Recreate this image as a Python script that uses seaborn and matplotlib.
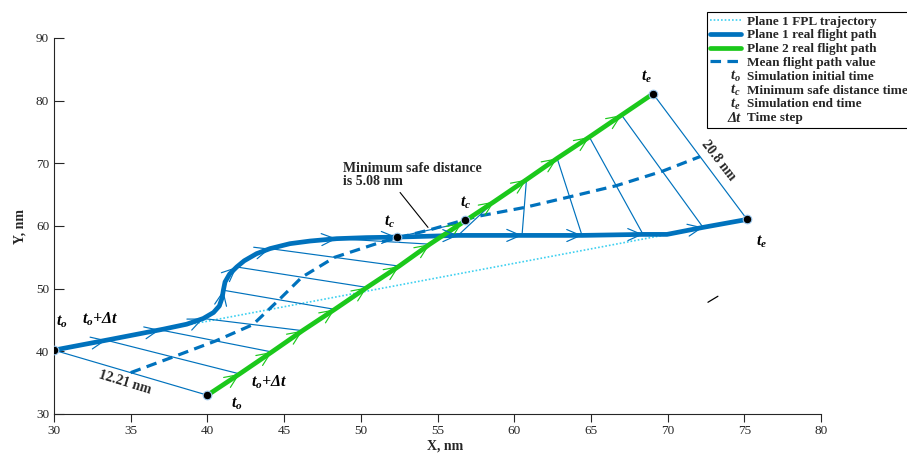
import numpy as np
import matplotlib
matplotlib.use("Agg")
import matplotlib.pyplot as plt
import seaborn as sns
import matplotlib.text as mtext
from matplotlib.legend_handler import HandlerBase
from matplotlib.lines import Line2D

# ---------------- data ----------------
fpl_x = [30.0, 75.18]
fpl_y = [40.19, 61.05]

p1_path_x = [30.0, 33.65, 37.13, 38.65, 39.73, 40.40, 40.78, 40.96, 41.04, 41.15, 41.45,
             41.91, 42.40, 43.21, 44.08, 45.38, 46.69, 48.43, 50.4, 52.34, 56.34, 60.51,
             64.42, 68.40, 69.96, 72.31, 75.18]
p1_path_y = [40.19, 41.89, 43.54, 44.33, 45.24, 46.20, 47.25, 48.55, 49.75, 51.07, 52.35,
             53.46, 54.45, 55.59, 56.39, 57.18, 57.60, 57.98, 58.15, 58.23, 58.50, 58.50,
             58.50, 58.66, 58.66, 59.78, 61.05]

p1_step_x = [30.0, 33.4, 36.9, 39.73, 41.04, 41.91, 44.08, 48.43, 52.34, 56.34, 60.51,
             64.42, 68.40, 72.31, 75.18]
p1_step_y = [40.19, 41.78, 43.43, 45.24, 49.75, 53.46, 56.39, 57.98, 58.23, 58.50, 58.50,
             58.50, 58.66, 59.78, 61.05]

p2_step_x = [40.0, 42.1, 44.2, 46.2, 48.3, 50.4, 52.5, 54.5, 56.6, 58.7, 60.8, 62.8,
             64.9, 67.0, 69.05]
p2_step_y = [33.0, 36.4, 39.9, 43.3, 46.7, 50.2, 53.6, 57.1, 60.5, 63.9, 67.4, 70.8,
             74.2, 77.7, 81.1]

mean_x = [35.0, 37.75, 40.55, 42.97, 44.67, 46.16, 48.29, 51.47, 54.47, 57.52, 60.66,
          63.61, 66.65, 69.66, 72.12]
mean_y = [36.6, 39.09, 41.67, 44.27, 48.23, 51.83, 55.0, 57.54, 59.37, 61.5, 62.95,
          64.65, 66.43, 68.74, 71.08]

tc_x = [52.34, 56.8]
tc_y = [58.23, 60.9]

stray_x = [72.63, 73.28]
stray_y = [47.83, 48.79]

x_ticks = [30, 35, 40, 45, 50, 55, 60, 65, 70, 75, 80]
y_ticks = [30, 40, 50, 60, 70, 80, 90]

legend_line_labels = ["Plane 1 FPL trajectory", "Plane 1 real flight path",
                      "Plane 2 real flight path", "Mean flight path value"]
legend_text_symbols = [r"$t_o$", r"$t_c$", r"$t_e$", "Δt"]
legend_text_labels = ["Simulation initial time", "Minimum safe distance time",
                      "Simulation end time", "Time step"]

# ---------------- style ----------------
sns.set_theme(style="ticks")
plt.rcParams["font.family"] = ["Liberation Serif", "DejaVu Serif"]
plt.rcParams["mathtext.fontset"] = "custom"
plt.rcParams["mathtext.it"] = "Liberation Serif:italic:bold"
plt.rcParams["mathtext.rm"] = "Liberation Serif:bold"
plt.rcParams["mathtext.bf"] = "Liberation Serif:bold"

BLUE = "#0072BD"
GREEN = "#1BC81B"
CYAN = "#3ED0F0"
AXC = "#262626"

fig = plt.figure(figsize=(9.07, 4.55), dpi=100)
ax = fig.add_axes([54 / 907, 1 - 414 / 455, (821 - 54) / 907, (414 - 38) / 455])
ax.set_xlim(30, 80)
ax.set_ylim(30, 90)

# FPL trajectory
sns.lineplot(x=fpl_x, y=fpl_y, sort=False, estimator=None, ax=ax, color=CYAN,
             linewidth=1.2, linestyle=(0, (1, 1.2)), zorder=2)

# time-step connection lines
ax.plot([p1_step_x, p2_step_x], [p1_step_y, p2_step_y], color=BLUE, lw=0.85, zorder=3)

# mean path
sns.lineplot(x=mean_x, y=mean_y, sort=False, estimator=None, ax=ax, color=BLUE,
             linewidth=2.3, linestyle=(0, (3.3, 2.0)), zorder=4)

# plane 1 real path
sns.lineplot(x=p1_path_x, y=p1_path_y, sort=False, estimator=None, ax=ax, color=BLUE,
             linewidth=3.4, zorder=5, solid_joinstyle="round", solid_capstyle="round")
# plane 2 real path
sns.lineplot(x=p2_step_x, y=p2_step_y, sort=False, estimator=None, ax=ax, color=GREEN,
             linewidth=3.4, zorder=6, solid_capstyle="butt")

# chevrons along the paths
disp_path = ax.transData.transform(np.column_stack([p1_path_x, p1_path_y]))
disp_p1 = ax.transData.transform(np.column_stack([p1_step_x, p1_step_y]))
disp_p2 = ax.transData.transform(np.column_stack([p2_step_x, p2_step_y]))


def chevron(xy, direction, color):
    d = np.asarray(direction, float)
    d = d / np.hypot(*d)
    ax.annotate("", xy=xy, xytext=(-d[0] * 6, -d[1] * 6), textcoords="offset points",
                arrowprops=dict(arrowstyle="->,head_length=0.55,head_width=0.24",
                                color=color, lw=0.85, shrinkA=0, shrinkB=0,
                                mutation_scale=18), zorder=7)


for i in range(1, len(p1_step_x) - 1):
    j = int(np.argmin(np.hypot(*(disp_path - disp_p1[i]).T)))
    j0, j1 = max(j - 1, 0), min(j + 1, len(disp_path) - 1)
    chevron((p1_step_x[i], p1_step_y[i]), disp_path[j1] - disp_path[j0], BLUE)
    chevron((p2_step_x[i], p2_step_y[i]), disp_p2[-1] - disp_p2[0], GREEN)

# key points
pts_x = [p1_step_x[0], p2_step_x[0], p1_step_x[-1], p2_step_x[-1]] + tc_x
pts_y = [p1_step_y[0], p2_step_y[0], p1_step_y[-1], p2_step_y[-1]] + tc_y
ax.plot(pts_x, pts_y, ls="none", marker="o", ms=6.2, mfc="black", mec="#9cc8ee",
        mew=0.8, zorder=9)

# stray small mark
ax.plot(stray_x, stray_y, color="black", lw=0.9, zorder=3)

# labels on the chart
tkw = dict(fontsize=11.5, fontweight="bold", fontstyle="italic", ha="center",
           va="center", color="black", zorder=10)
ax.text(30.5, 44.65, r"$t_o$", **tkw)
ax.text(33.0, 45.1, r"$t_o$+Δt", **tkw)
ax.text(41.93, 31.6, r"$t_o$", **tkw)
ax.text(44.0, 35.1, r"$t_o$+Δt", **tkw)
ax.text(51.9, 60.7, r"$t_c$", **tkw)
ax.text(56.86, 63.76, r"$t_c$", **tkw)
ax.text(68.6, 83.8, r"$t_e$", **tkw)
ax.text(76.15, 57.5, r"$t_e$", **tkw)

ax.text(34.63, 34.94, "12.21 nm", fontsize=10, fontweight="bold", ha="center",
        va="center", rotation=-17, rotation_mode="anchor", zorder=10)
ax.text(73.32, 70.45, "20.8 nm", fontsize=10, fontweight="bold", ha="center",
        va="center", rotation=-52, rotation_mode="anchor", zorder=10)

ax.text(48.84, 70.2, "Minimum safe distance\nis 5.08 nm", fontsize=10,
        fontweight="bold", ha="left", va="top", linespacing=1.0, zorder=10)
ax.annotate("", xy=(54.38, 59.78), xytext=(52.56, 65.35),
            arrowprops=dict(arrowstyle="-", color="black", lw=0.8, shrinkA=0, shrinkB=0),
            zorder=10)

# axes styling
sns.despine(ax=ax)
for s in ("left", "bottom"):
    ax.spines[s].set_color(AXC)
    ax.spines[s].set_linewidth(0.8)
ax.set_xticks(x_ticks)
ax.set_yticks(y_ticks)
ax.tick_params(axis="y", direction="in", length=7, width=0.8, pad=3.5, labelsize=9.5,
               colors=AXC)
ax.tick_params(axis="x", direction="out", length=6, width=0.8, pad=2, labelsize=9.5,
               colors=AXC)
ax.set_xlabel("X, nm", fontsize=10, fontweight="bold", color=AXC)
ax.set_ylabel("Y, nm", fontsize=10, fontweight="bold", color=AXC)
ax.xaxis.set_label_coords((445 - 54) / 767, -(440 - 414) / 376)
ax.yaxis.set_label_coords(-(54 - 27) / 767, 0.5)
ax.grid(False)


# legend
class TextSym:
    def __init__(self, s):
        self.s = s


class TextSymHandler(HandlerBase):
    def create_artists(self, legend, orig_handle, xdescent, ydescent, width, height,
                       fontsize, trans):
        t = mtext.Text(x=width - xdescent, y=(height - ydescent) / 2 - 1,
                       text=orig_handle.s, ha="right", va="center", fontsize=10.5,
                       fontweight="bold", fontstyle="italic",
                       family=["Liberation Serif", "DejaVu Serif"], transform=trans)
        return [t]


line_handles = [
    Line2D([], [], color=CYAN, lw=1.2, linestyle=(0, (1, 1.2))),
    Line2D([], [], color=BLUE, lw=3.4),
    Line2D([], [], color=GREEN, lw=3.4),
    Line2D([], [], color=BLUE, lw=2.3, linestyle=(0, (3.3, 2.0))),
]
text_handles = [TextSym(s) for s in legend_text_symbols]
leg = fig.legend(line_handles + text_handles, legend_line_labels + legend_text_labels,
                 handler_map={TextSym: TextSymHandler()},
                 loc="upper left", bbox_to_anchor=(707 / 907, 1 - 12 / 455),
                 bbox_transform=fig.transFigure, borderaxespad=0,
                 prop=dict(family="Liberation Serif", weight="bold", size=9.5),
                 handlelength=2.3, handletextpad=0.45, labelspacing=0.12,
                 borderpad=0.25, frameon=True, fancybox=False, framealpha=1,
                 edgecolor="black")
leg.get_frame().set_linewidth(0.8)

fig.savefig("out.png", dpi=100)
